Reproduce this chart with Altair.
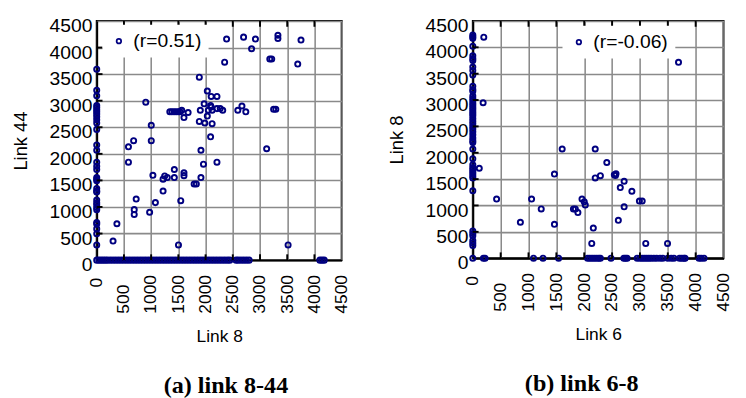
import altair as alt
import pandas as pd

NAVY = "#000080"
SANS = "Liberation Sans"
SERIF = "Liberation Serif"

TICKS = [0, 500, 1000, 1500, 2000, 2500, 3000, 3500, 4000, 4500]

# ---------- panel (a): Link 8 (x) vs Link 44 (y) ----------
a_label = "(r=0.51)"
a_col_y = [3593, 3195, 3092, 2910, 2870, 2830, 2790, 2750, 2700, 2640, 2580, 2460,
           2168, 2067, 1843, 1765, 1705, 1553, 1520, 1493, 1348, 1300, 1281,
           1131, 1080, 1040, 990, 950, 709, 679, 588, 498, 286]
a_pts_x = [901, 583, 678, 583, 1002, 1002, 1032, 1219, 1249, 1297, 1426, 1426, 1603, 1603,
           1790, 1830, 1915, 1915, 1961, 2209, 2092, 2120, 1885, 1986, 2032, 1603, 1885,
           2032, 2103, 2209, 1974, 2092, 2103, 1903, 2050, 2120, 2209, 2269, 2315,
           1343, 1380, 1420, 1460, 1500, 1532, 1562, 1679, 2592, 2668, 2739, 3250, 3290,
           3122, 2350, 2386, 2698, 2916, 2845, 3180, 3215, 3329, 3329, 3693, 3753,
           725, 689, 689, 1078, 972, 1219, 1544, 371, 300, 1502, 3516]
a_pts_y = [2972, 2132, 2248, 1843, 2537, 2248, 1596, 1524, 1584, 1553, 1705, 1553, 1643, 1590,
           1434, 1434, 1553, 2067, 1806, 1843, 2320, 2567, 2610, 2580, 2711, 2682, 3443,
           3182, 3080, 3080, 2941, 2911, 2880, 2820, 2820, 2820, 2851, 2851, 2820,
           2791, 2791, 2791, 2791, 2791, 2791, 2820, 2778, 2820, 2900, 2791, 2838, 2838,
           2096, 3725, 4160, 4196, 4160, 3978, 3786, 3786, 4230, 4170, 3689, 4141,
           1149, 950, 860, 1082, 901, 1300, 1119, 685, 359, 286, 286]
a_bot_x = [0, 40, 80, 120, 160, 200, 250, 300, 350, 400, 450, 500, 550, 600, 650, 700,
           750, 800, 850, 900, 950, 1000, 1050, 1100, 1150, 1200, 1250, 1300, 1350, 1400,
           1450, 1500, 1550, 1600, 1650, 1700, 1750, 1800, 1850, 1900, 1950, 2000, 2050,
           2100, 2150, 2200, 2250, 2300, 2350, 2400, 2445, 2560, 2600, 2650, 2700, 2750,
           2800, 4100, 4140, 4180]

# ---------- panel (b): Link 6 (x) vs Link 8 (y) ----------
b_label = "(r=-0.06)"
b_col_y = [4235, 4200, 4170, 4022, 3840, 3790, 3750, 3625, 3560, 3473, 3260, 3200, 3168,
           3077, 3030, 2985, 2940, 2900, 2860, 2820, 2780, 2740, 2700, 2650, 2600, 2550,
           2500, 2450, 2400, 2340, 2280, 2230, 2194, 2071, 1888, 1773, 1720, 1680, 1640,
           1600, 1560, 1523, 1280, 517, 470, 426, 335, 290, 243]
b_pts_x = [197, 185, 116, 3692, 1604, 2197, 2405, 1465, 2197, 2290, 2540, 2570, 2560,
           2716, 2647, 2855, 2990, 3040, 2716, 2612, 2163, 2135, 3104, 3495, 427, 1055,
           1228, 854, 1465, 1960, 2000, 2019, 1806, 1840, 1886]
b_pts_y = [4192, 2949, 1706, 3716, 2071, 2071, 1815, 1596, 1523, 1566, 1584, 1600, 1570,
           1459, 1340, 1270, 1084, 1084, 975, 718, 572, 280, 280, 280, 1121, 1121,
           935, 682, 642, 1121, 1070, 1010, 935, 935, 865]
b_bot_x = [0, 190, 220, 1090, 1260, 1540, 2060, 2100, 2140, 2180, 2220, 2260, 2290, 2480,
           2710, 2740, 2770, 2950, 3000, 3040, 3080, 3120, 3160, 3200, 3250, 3300, 3360,
           3410, 3500, 3560, 3610, 3710, 3750, 3790, 3810, 4060, 4100, 4150]


def frame(col_y, pts_x, pts_y, bot_x, label):
    xs = [0] * len(col_y) + list(pts_x) + list(bot_x)
    ys = list(col_y) + list(pts_y) + [0] * len(bot_x)
    return pd.DataFrame({"x": xs, "y": ys, "s": [label] * len(xs)})


def panel(df, xt, yt, label, w, h, lx, ly, title, tdx):
    sc = alt.Scale(domain=[0, 4500], nice=False, zero=True)
    xax = alt.Axis(values=TICKS, format="d", labelAngle=270, labelFontSize=18,
                   labelFont=SANS, labelColor="black", tickSize=0,
                   labelAlign="left", labelBaseline="middle",
                   labelPadding={"condition": {"test": "datum.value == 0", "value": 28},
                                 "value": 55},
                   title=xt, titleFont=SANS, titleFontSize=18, titleFontWeight="normal",
                   titleColor="black", titlePadding=15,
                   gridColor="#8a8a8a", gridWidth=1.6, domainColor="black", domainWidth=2)
    yax = alt.Axis(values=TICKS, format="d", labelFontSize=20, labelFont=SANS,
                   labelColor="black", tickSize=0, labelPadding=5, labelOffset=5,
                   title=yt, titleFont=SANS, titleFontSize=19, titleFontWeight="normal",
                   titleColor="black", titlePadding=19,
                   gridColor="#8a8a8a", gridWidth=1.6, domainColor="black", domainWidth=2)
    pts = alt.Chart(df).mark_point(shape="circle", filled=False, size=28,
                                   strokeWidth=2, opacity=1).encode(
        x=alt.X("x:Q", scale=sc, axis=xax),
        y=alt.Y("y:Q", scale=sc, axis=yax),
        color=alt.Color("s:N", scale=alt.Scale(range=[NAVY]),
                        legend=alt.Legend(title=None, orient="none", legendX=lx, legendY=ly,
                                          fillColor="white", padding=7,
                                          labelFont=SANS, labelFontSize=20, labelColor="black",
                                          symbolType="circle", symbolSize=22,
                                          symbolStrokeWidth=1.8, symbolFillColor="white",
                                          labelOffset=5)),
    )
    tdf = pd.DataFrame({"x": TICKS[1:-1], "y": TICKS[1:-1]})
    tick_b = alt.Chart(tdf).mark_rule(color="black", strokeWidth=2).encode(
        x=alt.X("x:Q", scale=sc, axis=xax), y=alt.value(h), y2=alt.value(h - 6))
    tick_t = alt.Chart(tdf).mark_rule(color="black", strokeWidth=2).encode(
        x=alt.X("x:Q", scale=sc, axis=xax), y=alt.value(0), y2=alt.value(6))
    tick_l = alt.Chart(tdf).mark_rule(color="black", strokeWidth=2).encode(
        y=alt.Y("y:Q", scale=sc, axis=yax), x=alt.value(0), x2=alt.value(6))
    return alt.layer(pts, tick_b, tick_t, tick_l).properties(
        width=w, height=h,
        title=alt.TitleParams(title, orient="bottom", font=SERIF, fontSize=25,
                              fontWeight="bold", color="black", offset=30,
                              frame="group", anchor="middle", dx=tdx),
    )


left = panel(frame(a_col_y, a_pts_x, a_pts_y, a_bot_x, a_label), "Link 8", "Link 44",
             a_label, 254, 248, 6, 4, "(a) link 8-44", 7)
right = panel(frame(b_col_y, b_pts_x, b_pts_y, b_bot_x, b_label), "Link 6", "Link 8",
              b_label, 260, 246, 93, 5, "(b) link 6-8", -17)

chart = alt.hconcat(left, right, spacing=37).resolve_scale(color="independent").properties(
    padding={"left": 3, "top": 0, "right": 5, "bottom": 5}
).configure_view(stroke="black", strokeWidth=2)

chart.save("out.html", embed_options={"renderer": "svg", "actions": False})
